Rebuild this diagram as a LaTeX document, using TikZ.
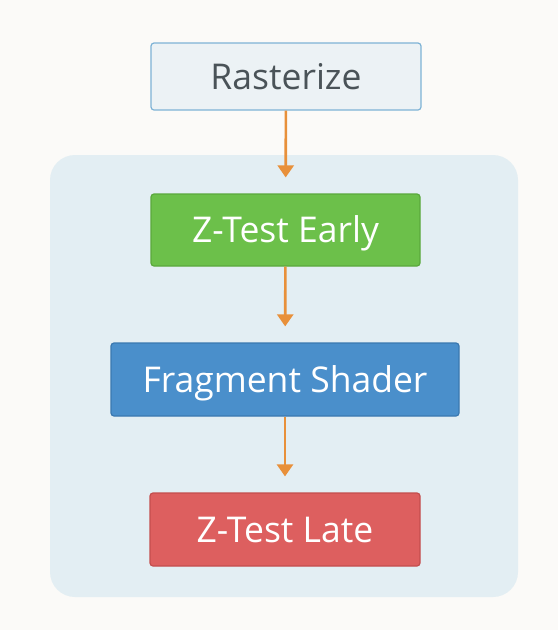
\documentclass[tikz,border=0pt]{standalone}
\usepackage{fontspec}
\setmainfont{Open Sans}
\usetikzlibrary{arrows.meta,positioning}
\definecolor{zbg}{HTML}{FBFAF8}
\definecolor{zpanel}{HTML}{E3EEF3}
\definecolor{zink}{HTML}{4A5358}
\definecolor{zrastfill}{HTML}{ECF2F5}
\definecolor{zrastline}{HTML}{7EB3D6}
\definecolor{zgreen}{HTML}{6CC04A}
\definecolor{zgreenline}{HTML}{5AA83C}
\definecolor{zblue}{HTML}{4A8FCB}
\definecolor{zblueline}{HTML}{3A78B0}
\definecolor{zred}{HTML}{DD5F5F}
\definecolor{zredline}{HTML}{C44D4D}
\definecolor{zorange}{HTML}{E8903A}
\tikzset{
  stage/.style={rounded corners=3pt, align=center, font=\fontsize{35.5}{40}\selectfont, line width=1.2pt, inner sep=0pt, text height=25pt, text depth=0pt},
  rastbox/.style={stage, draw=zrastline, fill=zrastfill, text=zink, minimum width=270pt, minimum height=67pt},
  early/.style={stage, draw=zgreenline, fill=zgreen, text=white, minimum width=269pt, minimum height=72pt},
  shader/.style={stage, draw=zblueline, fill=zblue, text=white, minimum width=348pt, minimum height=73pt},
  late/.style={stage, draw=zredline, fill=zred, text=white, minimum width=270pt, minimum height=73pt},
  arr/.style={-{Triangle[length=12pt,width=16pt]}, line width=2.6pt, color=zorange, shorten >=16pt},
}
\begin{document}
\begin{tikzpicture}[x=1pt,y=-1pt]
  % page and panel
  \fill[zbg] (0,0) rectangle (558,630);
  \fill[zpanel, rounded corners=25pt] (50,155) rectangle (518,597);
  % stages
  \node[rastbox] (rast) at (286,76.5) {Rasterize};
  \node[early] (zearly) at (285.5,230) {Z-Test Early};
  \node[shader] (frag) at (285,379.5) {Fragment Shader};
  \node[late] (zlate) at (285,529.5) {Z-Test Late};
  % flow
  \draw[arr] (rast) -- (zearly);
  \draw[arr] (zearly) -- (frag);
  \draw[arr] (frag) -- (zlate);
\end{tikzpicture}
\end{document}
